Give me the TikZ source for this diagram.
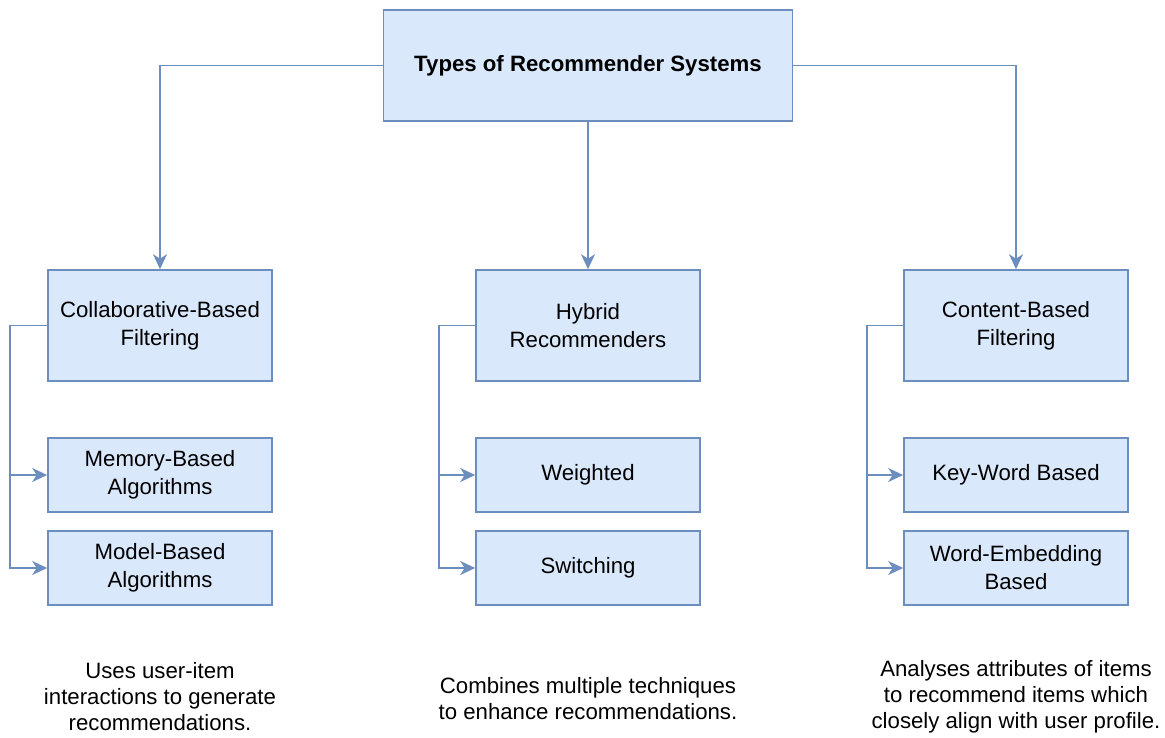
\documentclass[tikz,border=0pt]{standalone}
\usepackage{fontspec}
\setmainfont{Liberation Sans}
\usetikzlibrary{arrows.meta}
\definecolor{boxfill}{HTML}{DAE8FC}
\definecolor{boxline}{HTML}{6C8EBF}

\begin{document}
\begin{tikzpicture}[x=1pt,y=-1pt,
  box/.style={draw=boxline, fill=boxfill, line width=1.6pt, align=center,
    inner sep=0pt, font=\fontsize{22.2}{28}\selectfont},
  bigbox/.style={box, minimum width=409pt, minimum height=111pt},
  catbox/.style={box, minimum width=224pt, minimum height=111pt},
  subbox/.style={box, minimum width=224pt, minimum height=74pt},
  conn/.style={draw=boxline, line width=1.6pt,
    -{Stealth[length=15pt,width=14pt,inset=4.5pt]}},
  desc/.style={align=center, inner sep=0pt, font=\fontsize{22.2}{26}\selectfont}
]
\useasboundingbox (0,0) rectangle (1165,737);

% root
\node[bigbox] (root) at (588,65.5) {\textbf{Types of Recommender Systems}};

% categories
\node[catbox] (cbf) at (160,325.5) {Collaborative-Based\\Filtering};
\node[catbox] (hyb) at (588,325.5) {Hybrid\\Recommenders};
\node[catbox] (cnt) at (1016,325.5) {Content-Based\\Filtering};

% sub-types
\node[subbox] (mem) at (160,475) {Memory-Based\\Algorithms};
\node[subbox] (mod) at (160,568) {Model-Based\\Algorithms};
\node[subbox] (wei) at (588,475) {Weighted};
\node[subbox] (swi) at (588,568) {Switching};
\node[subbox] (kwb) at (1016,475) {Key-Word Based};
\node[subbox] (web) at (1016,568) {Word-Embedding\\Based};

% root to categories
\draw[conn] (root.west) -| (cbf.north);
\draw[conn] (root.south) -- (hyb.north);
\draw[conn] (root.east) -| (cnt.north);

% categories to sub-types
\draw[conn] (cbf.west) -- ++(-37pt,0) |- (mem.west);
\draw[conn] (cbf.west) -- ++(-37pt,0) |- (mod.west);
\draw[conn] (hyb.west) -- ++(-36pt,0) |- (wei.west);
\draw[conn] (hyb.west) -- ++(-36pt,0) |- (swi.west);
\draw[conn] (cnt.west) -- ++(-36pt,0) |- (kwb.west);
\draw[conn] (cnt.west) -- ++(-36pt,0) |- (web.west);

% descriptions
\node[desc] (dcbf) at (160,697) {Uses user-item\\interactions to generate\\recommendations.};
\node[desc] (dhyb) at (588,698.5) {Combines multiple techniques\\to enhance recommendations.};
\node[desc] (dcnt) at (1016,697) {Analyses attributes of items\\to recommend items which\\closely align with user profile.};
\end{tikzpicture}
\end{document}
